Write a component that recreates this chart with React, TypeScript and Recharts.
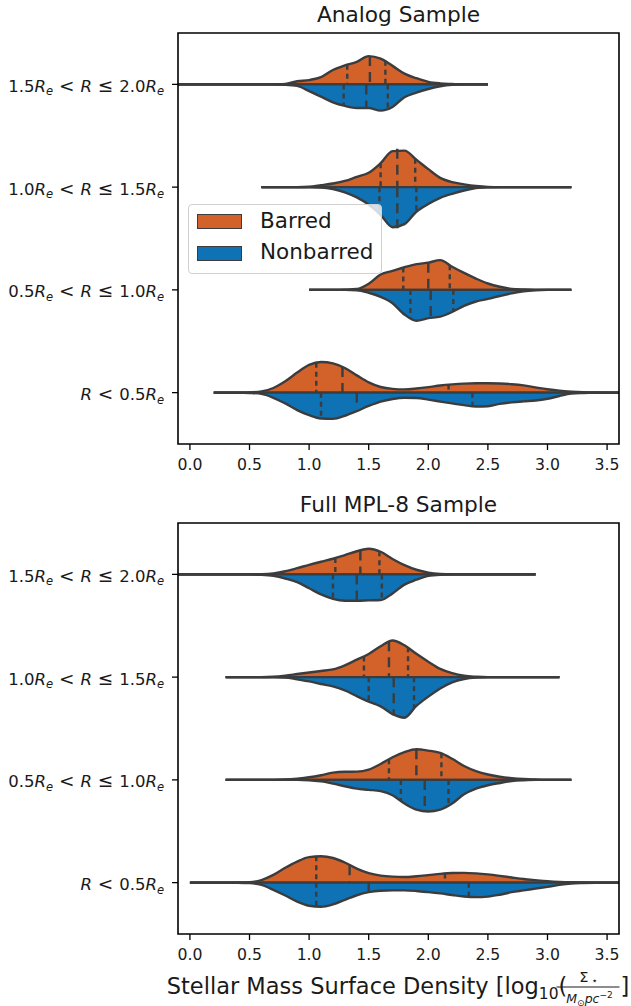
import React from 'react';
import { ComposedChart, Area, XAxis, YAxis, ReferenceLine, ReferenceArea, Legend } from 'recharts';

const n = null;

// common density grid (x = stellar mass surface density)
const gridX = [-0.2, -0.1, 0.0, 0.1, 0.2, 0.3, 0.4, 0.5, 0.6, 0.7, 0.8, 0.9, 1.0, 1.1, 1.2, 1.3, 1.4, 1.5, 1.6, 1.7, 1.8, 1.9, 2.0, 2.1, 2.2, 2.3, 2.4, 2.5, 2.6, 2.7, 2.8, 2.9, 3.0, 3.1, 3.2, 3.3, 3.4, 3.5, 3.6, 3.7];

const xTicks = [0.0, 0.5, 1.0, 1.5, 2.0, 2.5, 3.0, 3.5];
const rowIndex = [0, 1, 2, 3];
const rowLow = ['', '0.5', '1.0', '1.5'];
const rowHigh = ['0.5', '1.0', '1.5', '2.0'];
const seriesNames = ['Barred', 'Nonbarred'];
const seriesColors = ['#D3612A', '#0E72B5'];
const panelTitles = ['Analog Sample', 'Full MPL-8 Sample'];

// ---- Analog sample: half-violin widths (row units) ----
const analogBarredR0 = [n, n, n, n, 0, 0, 0, 0.002, 0.012, 0.045, 0.11, 0.195, 0.27, 0.298, 0.285, 0.24, 0.168, 0.1, 0.055, 0.037, 0.032, 0.04, 0.053, 0.069, 0.08, 0.088, 0.091, 0.091, 0.089, 0.082, 0.07, 0.051, 0.033, 0.019, 0.01, 0.004, 0.001, 0, 0, 0];
const analogBarredR1 = [n, n, n, n, n, n, n, n, n, n, n, n, 0, 0, 0, 0.002, 0.008, 0.06, 0.15, 0.185, 0.22, 0.25, 0.265, 0.29, 0.225, 0.165, 0.11, 0.062, 0.03, 0.01, 0.003, 0, 0, 0, 0, n, n, n, n, n];
const analogBarredR2 = [n, n, n, n, n, n, n, n, 0, 0, 0, 0, 0.003, 0.018, 0.035, 0.06, 0.1, 0.14, 0.233, 0.35, 0.355, 0.266, 0.175, 0.09, 0.048, 0.027, 0.011, 0.002, 0, 0, 0, 0, 0, 0, 0, n, n, n, n, n];
const analogBarredR3 = [0, 0, 0, 0, 0, 0, 0, 0, 0, 0, 0.005, 0.03, 0.042, 0.07, 0.14, 0.185, 0.22, 0.275, 0.25, 0.18, 0.105, 0.06, 0.025, 0.01, 0.004, 0, 0, 0, n, n, n, n, n, n, n, n, n, n, n, n];

const analogNonbarredR0 = [n, n, n, n, 0, 0, 0, 0.003, 0.012, 0.05, 0.105, 0.17, 0.22, 0.252, 0.255, 0.225, 0.18, 0.13, 0.088, 0.062, 0.05, 0.053, 0.068, 0.087, 0.105, 0.122, 0.135, 0.132, 0.11, 0.095, 0.085, 0.077, 0.06, 0.033, 0.01, 0.003, 0, 0, 0, 0];
const analogNonbarredR1 = [n, n, n, n, n, n, n, n, n, n, n, n, 0, 0, 0, 0, 0.003, 0.028, 0.068, 0.13, 0.24, 0.3, 0.275, 0.26, 0.215, 0.155, 0.113, 0.088, 0.06, 0.034, 0.014, 0.004, 0, 0, 0, n, n, n, n, n];
const analogNonbarredR2 = [n, n, n, n, n, n, n, n, 0, 0, 0, 0, 0, 0.003, 0.018, 0.05, 0.1, 0.17, 0.27, 0.39, 0.36, 0.24, 0.165, 0.105, 0.065, 0.033, 0.01, 0.002, 0, 0, 0, 0, 0, 0, 0, n, n, n, n, n];
const analogNonbarredR3 = [0, 0, 0, 0, 0, 0, 0, 0, 0, 0, 0.003, 0.015, 0.065, 0.12, 0.175, 0.21, 0.23, 0.23, 0.255, 0.22, 0.125, 0.08, 0.045, 0.018, 0.004, 0, 0, 0, n, n, n, n, n, n, n, n, n, n, n, n];

// ---- Full MPL-8 sample ----
const fullBarredR0 = [n, n, 0, 0, 0, 0, 0.001, 0.004, 0.025, 0.075, 0.145, 0.205, 0.248, 0.256, 0.24, 0.196, 0.136, 0.092, 0.068, 0.058, 0.055, 0.062, 0.073, 0.085, 0.093, 0.095, 0.09, 0.08, 0.066, 0.05, 0.035, 0.024, 0.014, 0.007, 0.003, 0.001, 0, 0, 0, 0];
const fullBarredR1 = [n, n, n, n, n, 0, 0, 0, 0, 0, 0.003, 0.012, 0.025, 0.045, 0.07, 0.079, 0.08, 0.1, 0.155, 0.22, 0.27, 0.298, 0.285, 0.262, 0.205, 0.135, 0.085, 0.052, 0.031, 0.017, 0.008, 0.003, 0, 0, 0, n, n, n, n, n];
const fullBarredR2 = [n, n, n, n, n, 0, 0, 0, 0, 0.004, 0.015, 0.03, 0.045, 0.06, 0.075, 0.115, 0.17, 0.225, 0.3, 0.357, 0.31, 0.227, 0.15, 0.08, 0.038, 0.013, 0.004, 0, 0, 0, 0, 0, 0, 0, n, n, n, n, n, n];
const fullBarredR3 = [0, 0, 0, 0, 0, 0, 0, 0, 0.002, 0.01, 0.03, 0.06, 0.093, 0.123, 0.152, 0.188, 0.225, 0.25, 0.22, 0.15, 0.09, 0.045, 0.017, 0.004, 0, 0, 0, 0, 0, 0, 0, 0, n, n, n, n, n, n, n, n];

const fullNonbarredR0 = [n, n, 0, 0, 0, 0, 0.001, 0.005, 0.022, 0.07, 0.125, 0.185, 0.225, 0.235, 0.212, 0.168, 0.123, 0.093, 0.079, 0.075, 0.075, 0.081, 0.092, 0.105, 0.121, 0.135, 0.141, 0.136, 0.118, 0.093, 0.076, 0.058, 0.041, 0.022, 0.009, 0.004, 0.001, 0, 0, 0];
const fullNonbarredR1 = [n, n, n, n, n, 0, 0, 0, 0, 0, 0, 0, 0.003, 0.015, 0.036, 0.062, 0.085, 0.097, 0.11, 0.15, 0.23, 0.29, 0.308, 0.29, 0.23, 0.14, 0.085, 0.052, 0.03, 0.012, 0.004, 0, 0, 0, 0, n, n, n, n, n];
const fullNonbarredR2 = [n, n, n, n, n, 0, 0, 0, 0, 0, 0.003, 0.022, 0.042, 0.067, 0.09, 0.13, 0.185, 0.238, 0.285, 0.36, 0.395, 0.28, 0.19, 0.11, 0.05, 0.018, 0.004, 0, 0, 0, 0, 0, 0, 0, n, n, n, n, n, n];
const fullNonbarredR3 = [0, 0, 0, 0, 0, 0, 0, 0, 0.004, 0.015, 0.04, 0.075, 0.135, 0.195, 0.238, 0.256, 0.256, 0.253, 0.25, 0.185, 0.1, 0.052, 0.015, 0.003, 0, 0, 0, 0, 0, 0, 0, 0, n, n, n, n, n, n, n, n];

// quartiles per row: [value, half-width at that value]; index 1 is the median
const analogBarredQ = [
  [[1.06, 0.29], [1.28, 0.25], [2.17, 0.078]],
  [[1.79, 0.217], [2.0, 0.265], [2.18, 0.24]],
  [[1.6, 0.233], [1.74, 0.373], [1.89, 0.275]],
  [[1.32, 0.19], [1.51, 0.275], [1.64, 0.23]],
];
const analogNonbarredQ = [
  [[1.1, 0.252], [1.4, 0.15], [2.37, 0.133]],
  [[1.85, 0.28], [2.02, 0.27], [2.21, 0.21]],
  [[1.59, 0.26], [1.74, 0.4], [1.9, 0.24]],
  [[1.29, 0.21], [1.48, 0.23], [1.66, 0.24]],
];
const fullBarredQ = [
  [[1.06, 0.256], [1.34, 0.17], [2.14, 0.088]],
  [[1.67, 0.2], [1.9, 0.298], [2.11, 0.26]],
  [[1.46, 0.2], [1.67, 0.35], [1.83, 0.29]],
  [[1.22, 0.16], [1.43, 0.233], [1.59, 0.225]],
];
const fullNonbarredQ = [
  [[1.06, 0.233], [1.5, 0.093], [2.34, 0.138]],
  [[1.77, 0.2], [1.97, 0.305], [2.17, 0.25]],
  [[1.5, 0.24], [1.71, 0.37], [1.88, 0.3]],
  [[1.2, 0.238], [1.4, 0.256], [1.61, 0.25]],
];

const analogBarred = [analogBarredR0, analogBarredR1, analogBarredR2, analogBarredR3];
const analogNonbarred = [analogNonbarredR0, analogNonbarredR1, analogNonbarredR2, analogNonbarredR3];
const fullBarred = [fullBarredR0, fullBarredR1, fullBarredR2, fullBarredR3];
const fullNonbarred = [fullNonbarredR0, fullNonbarredR1, fullNonbarredR2, fullNonbarredR3];

const FONT = "'DejaVu Sans', sans-serif";
const EDGE = '#3c3c3c';
const TEXT = '#1a1a1a';

function buildData(barred: (number | null)[][], nonbarred: (number | null)[][]) {
  return gridX.map((x, i) => {
    const o: any = { x };
    rowIndex.forEach((k) => {
      const b = barred[k][i];
      const nb = nonbarred[k][i];
      o['b' + k] = b == null ? null : [k, k + b];
      o['n' + k] = nb == null ? null : [k - nb, k];
    });
    return o;
  });
}

const RowTick = (props: any) => {
  const { x, y, payload } = props;
  const k = payload.value as number;
  const fs = 16.5;
  const rfs = 18.5;
  const sfs = fs * 0.7;
  const sd = 3.5;
  return (
    <text x={x} y={y} dy={7.5} textAnchor="end" fill={TEXT} style={{ whiteSpace: 'pre', fontFamily: FONT, fontSize: fs }}>
      {k > 0 ? (
        <>
          <tspan>{rowLow[k]}</tspan>
          <tspan fontStyle="italic">R</tspan>
          <tspan fontStyle="italic" style={{ fontSize: sfs }} dy={sd}>e</tspan>
          <tspan style={{ fontSize: rfs }} dy={-sd}>{' < '}</tspan>
          <tspan fontStyle="italic">R</tspan>
          <tspan style={{ fontSize: rfs }}>{' \u2264 '}</tspan>
          <tspan>{rowHigh[k]}</tspan>
          <tspan fontStyle="italic">R</tspan>
          <tspan fontStyle="italic" style={{ fontSize: sfs }} dy={sd}>e</tspan>
        </>
      ) : (
        <>
          <tspan fontStyle="italic">R</tspan>
          <tspan style={{ fontSize: rfs }}>{' < '}</tspan>
          <tspan>{rowHigh[k]}</tspan>
          <tspan fontStyle="italic">R</tspan>
          <tspan fontStyle="italic" style={{ fontSize: sfs }} dy={sd}>e</tspan>
        </>
      )}
    </text>
  );
};

const XLabel = (props: any) => {
  const vb = props.viewBox || { x: 178, y: 444, width: 441, height: 30 };
  const cx = vb.x + vb.width / 2;
  const by = vb.y + 60;
  const fx = cx + 190;
  return (
    <g fill={TEXT} style={{ fontFamily: FONT }}>
      <text x={cx - 231.8} y={by} style={{ whiteSpace: 'pre', fontSize: 22.5, fontFamily: FONT }}>
        <tspan>Stellar Mass Surface Density [log</tspan>
        <tspan style={{ fontSize: 15.5 }} dy={5}>10</tspan>
        <tspan dy={-5}>(</tspan>
      </text>
      <text x={fx} y={by - 12} textAnchor="middle" style={{ fontSize: 14.5, fontFamily: FONT, whiteSpace: 'pre' }}>
        <tspan>Σ</tspan>
        <tspan style={{ fontSize: 10 }} dy={2}>{' \u22C6'}</tspan>
      </text>
      <line x1={fx - 32} x2={fx + 31} y1={by - 7} y2={by - 7} stroke={TEXT} strokeWidth={1} />
      <text x={fx + 1} y={by + 9} textAnchor="middle" style={{ fontSize: 12.5, fontFamily: FONT }}>
        <tspan fontStyle="italic">M</tspan>
        <tspan style={{ fontSize: 9 }} dy={2.5}>{'\u2299'}</tspan>
        <tspan fontStyle="italic" dy={-2.5}>pc</tspan>
        <tspan style={{ fontSize: 9 }} dy={-5}>{'\u22122'}</tspan>
      </text>
      <text x={cx + 222} y={by} style={{ fontSize: 22.5, fontFamily: FONT }}>]</text>
    </g>
  );
};

const LegendBox = () => (
  <div
    style={{
      position: 'relative',
      width: 194,
      height: 70,
      boxSizing: 'border-box',
      border: '1px solid #d0d0d0',
      borderRadius: 4,
      background: 'rgba(255,255,255,0.8)',
      fontFamily: FONT,
      fontSize: 21.5,
      color: TEXT,
    }}
  >
    {seriesNames.map((name, i) => (
      <React.Fragment key={name}>
        <div
          style={{
            position: 'absolute',
            left: 8,
            top: 9 + i * 32,
            width: 45,
            height: 15,
            boxSizing: 'border-box',
            background: seriesColors[i],
            border: `1px solid ${EDGE}`,
          }}
        />
        <div style={{ position: 'absolute', left: 71, top: 3 + i * 31, lineHeight: '25px', whiteSpace: 'nowrap' }}>{name}</div>
      </React.Fragment>
    ))}
  </div>
);

type PanelProps = {
  title: string;
  barred: (number | null)[][];
  nonbarred: (number | null)[][];
  barredQ: number[][][];
  nonbarredQ: number[][][];
  height: number;
  bottomMargin: number;
  showLegend: boolean;
  showXLabel: boolean;
};

const Panel = ({ title, barred, nonbarred, barredQ, nonbarredQ, height, bottomMargin, showLegend, showXLabel }: PanelProps) => {
  const data = buildData(barred, nonbarred);
  return (
    <div style={{ position: 'relative', width: 631, height }}>
      <div
        style={{
          position: 'absolute',
          left: 178,
          width: 441,
          top: 4,
          textAlign: 'center',
          fontFamily: FONT,
          fontSize: 21.7,
          lineHeight: '21.7px',
          color: TEXT,
          whiteSpace: 'nowrap',
        }}
      >
        {title}
      </div>
      <ComposedChart width={631} height={height} data={data} margin={{ top: 33, right: 12, bottom: bottomMargin, left: 0 }}>
        <XAxis
          dataKey="x"
          type="number"
          domain={[-0.1, 3.6]}
          allowDataOverflow
          ticks={xTicks}
          tickFormatter={(v: number) => v.toFixed(1)}
          height={30}
          tickSize={6}
          tickMargin={9}
          axisLine={false}
          tickLine={{ stroke: '#000', strokeWidth: 1.3 }}
          tick={{ fontFamily: FONT, fontSize: 15.7, fill: TEXT }}
          interval={0}
          label={showXLabel ? { content: (p: any) => <XLabel {...p} /> } : undefined}
        />
        <YAxis
          type="number"
          domain={[-0.5, 3.5]}
          allowDataOverflow
          ticks={rowIndex}
          width={178}
          tickSize={6}
          tickMargin={8}
          axisLine={false}
          tickLine={{ stroke: '#000', strokeWidth: 1.3 }}
          tick={<RowTick />}
          interval={0}
        />
        {rowIndex.map((k) => (
          <Area
            key={'b' + k}
            dataKey={'b' + k}
            name={seriesNames[0]}
            type="monotone"
            fill={seriesColors[0]}
            fillOpacity={1}
            stroke={EDGE}
            strokeWidth={2.4}
            dot={false}
            activeDot={false}
            isAnimationActive={false}
          />
        ))}
        {rowIndex.map((k) => (
          <Area
            key={'n' + k}
            dataKey={'n' + k}
            name={seriesNames[1]}
            type="monotone"
            fill={seriesColors[1]}
            fillOpacity={1}
            stroke={EDGE}
            strokeWidth={2.4}
            dot={false}
            activeDot={false}
            isAnimationActive={false}
          />
        ))}
        {rowIndex.map((k) =>
          barredQ[k].map(([q, h], j) => (
            <ReferenceLine
              key={`bq${k}-${j}`}
              segment={[{ x: q, y: k + h }, { x: q, y: k }]}
              stroke={EDGE}
              strokeWidth={2.4}
              strokeDasharray={j === 1 ? '10 6' : '5 4'}
            />
          ))
        )}
        {rowIndex.map((k) =>
          nonbarredQ[k].map(([q, h], j) => (
            <ReferenceLine
              key={`nq${k}-${j}`}
              segment={[{ x: q, y: k }, { x: q, y: k - h }]}
              stroke={EDGE}
              strokeWidth={2.4}
              strokeDasharray={j === 1 ? '10 6' : '5 4'}
            />
          ))
        )}
        <ReferenceArea x1={-0.1} x2={3.6} y1={-0.5} y2={3.5} fill="none" fillOpacity={0} stroke="#000" strokeWidth={1.6} />
        {showLegend && (
          <Legend
            verticalAlign="middle"
            align="center"
            content={() => <LegendBox />}
            wrapperStyle={{ left: 188, top: 204, width: 194, height: 70 }}
          />
        )}
      </ComposedChart>
    </div>
  );
}

export default function App() {
  return (
    <div style={{ position: 'absolute', left: 0, top: 0, width: 631, height: 1006, background: '#fff', overflow: 'hidden' }}>
      <Panel
        title={panelTitles[0]}
        barred={analogBarred}
        nonbarred={analogNonbarred}
        barredQ={analogBarredQ}
        nonbarredQ={analogNonbarredQ}
        height={490}
        bottomMargin={16}
        showLegend
        showXLabel={false}
      />
      <Panel
        title={panelTitles[1]}
        barred={fullBarred}
        nonbarred={fullNonbarred}
        barredQ={fullBarredQ}
        nonbarredQ={fullNonbarredQ}
        height={516}
        bottomMargin={42}
        showLegend={false}
        showXLabel
      />
    </div>
  );
}
